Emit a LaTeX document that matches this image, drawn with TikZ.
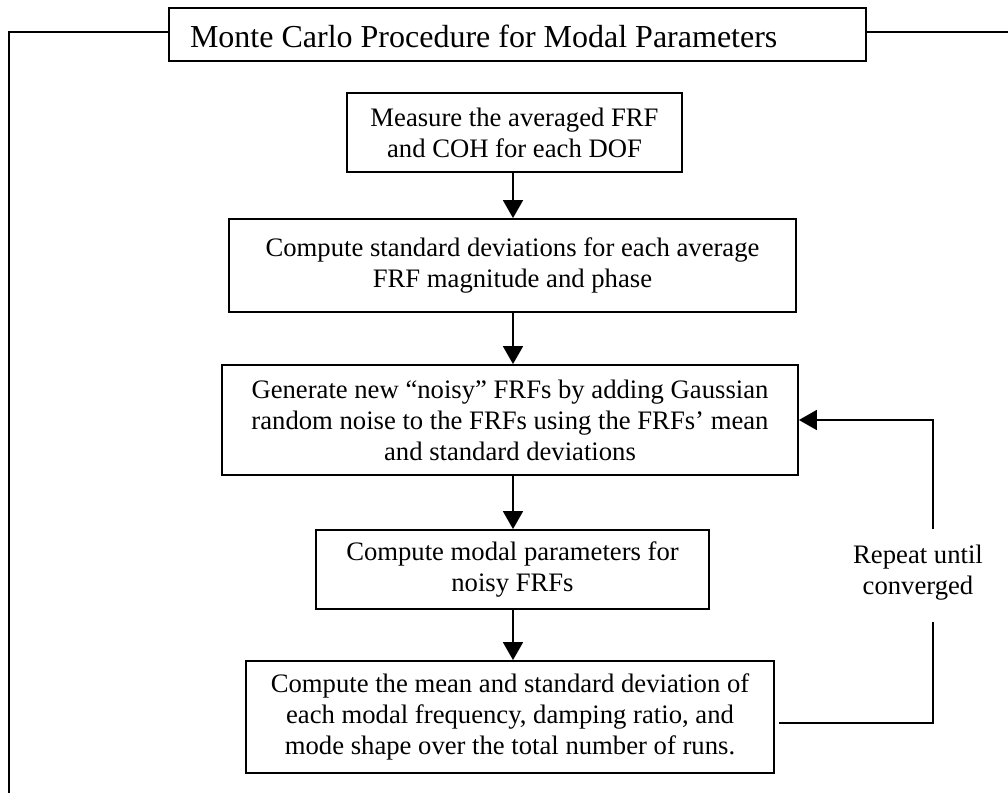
\documentclass[tikz,border=0pt]{standalone}
\usepackage{fontspec}
\setmainfont{Liberation Serif}
\usetikzlibrary{arrows.meta,calc}

\newcommand{\bodyfont}{\fontsize{20pt}{23.25pt}\selectfont}
\newcommand{\titlefont}{\fontsize{24pt}{28pt}\selectfont}

\tikzset{
  stepbox/.style={draw, line width=1.4pt, inner sep=0pt, align=center, font=\bodyfont},
  link/.style={line width=1.4pt},
  arr/.style={line width=1.4pt, -{Triangle[width=15pt,length=13.5pt]}},
}

\begin{document}
\begin{tikzpicture}[x=0.75pt,y=-0.75pt]
  \useasboundingbox (0,0) rectangle (1008,793);

  % outer frame with the title box set into its top edge
  \node[draw, line width=1.4pt, inner xsep=15.75pt, inner ysep=0pt,
        text width=491.25pt, align=flush left, minimum height=39.75pt,
        text height=20pt, text depth=1.25pt, font=\titlefont]
        (title) at (517.5,34.5) {Monte Carlo Procedure for Modal Parameters};
  \coordinate (frameL) at (9,793);
  \coordinate (frameR) at (1008,32);
  \draw[link] (title.west |- 0,32) -| (frameL);
  \draw[link] (title.east |- 0,32) -- (frameR);

  % process steps
  \node[stepbox, minimum width=251.25pt, minimum height=59.25pt] (measure) at (514.5,132.5)
    {Measure the averaged FRF\\and COH for each DOF};
  \node[stepbox, minimum width=425.25pt, minimum height=69.75pt] (stdev) at (512.5,265.5)
    {Compute standard deviations for each average\\FRF magnitude and phase};
  \node[stepbox, minimum width=432pt, minimum height=82.5pt] (noisy) at (510,420)
    {Generate new “noisy” FRFs by adding Gaussian\\random noise to the FRFs using the FRFs’ mean\\and standard deviations};
  \node[stepbox, minimum width=294.75pt, minimum height=59.25pt] (modal) at (512.5,569.5)
    {Compute modal parameters for\\noisy FRFs};
  \node[stepbox, minimum width=396pt, minimum height=84pt] (stats) at (510,717)
    {Compute the mean and standard deviation of\\each modal frequency, damping ratio, and\\mode shape over the total number of runs.};

  % main flow
  \coordinate (trunk) at (513,0);
  \draw[arr] (measure.south -| trunk) -- (stdev.north -| trunk);
  \draw[arr] (stdev.south -| trunk) -- (noisy.north -| trunk);
  \draw[arr] (noisy.south -| trunk) -- (modal.north -| trunk);
  \draw[arr] (modal.south -| trunk) -- (stats.north -| trunk);

  % repeat loop
  \node[font=\bodyfont, align=center, inner sep=0pt] (repeat) at (918,573)
    {Repeat until\\converged};
  \coordinate (loopA) at (933,723);
  \coordinate (loopB) at (933,622);
  \coordinate (loopC) at (933,529);
  \draw[link] ($(stats.east)+(4,6)$) -- (loopA) -- (loopB);
  \draw[arr] (loopC) |- (noisy.east);
\end{tikzpicture}
\end{document}
